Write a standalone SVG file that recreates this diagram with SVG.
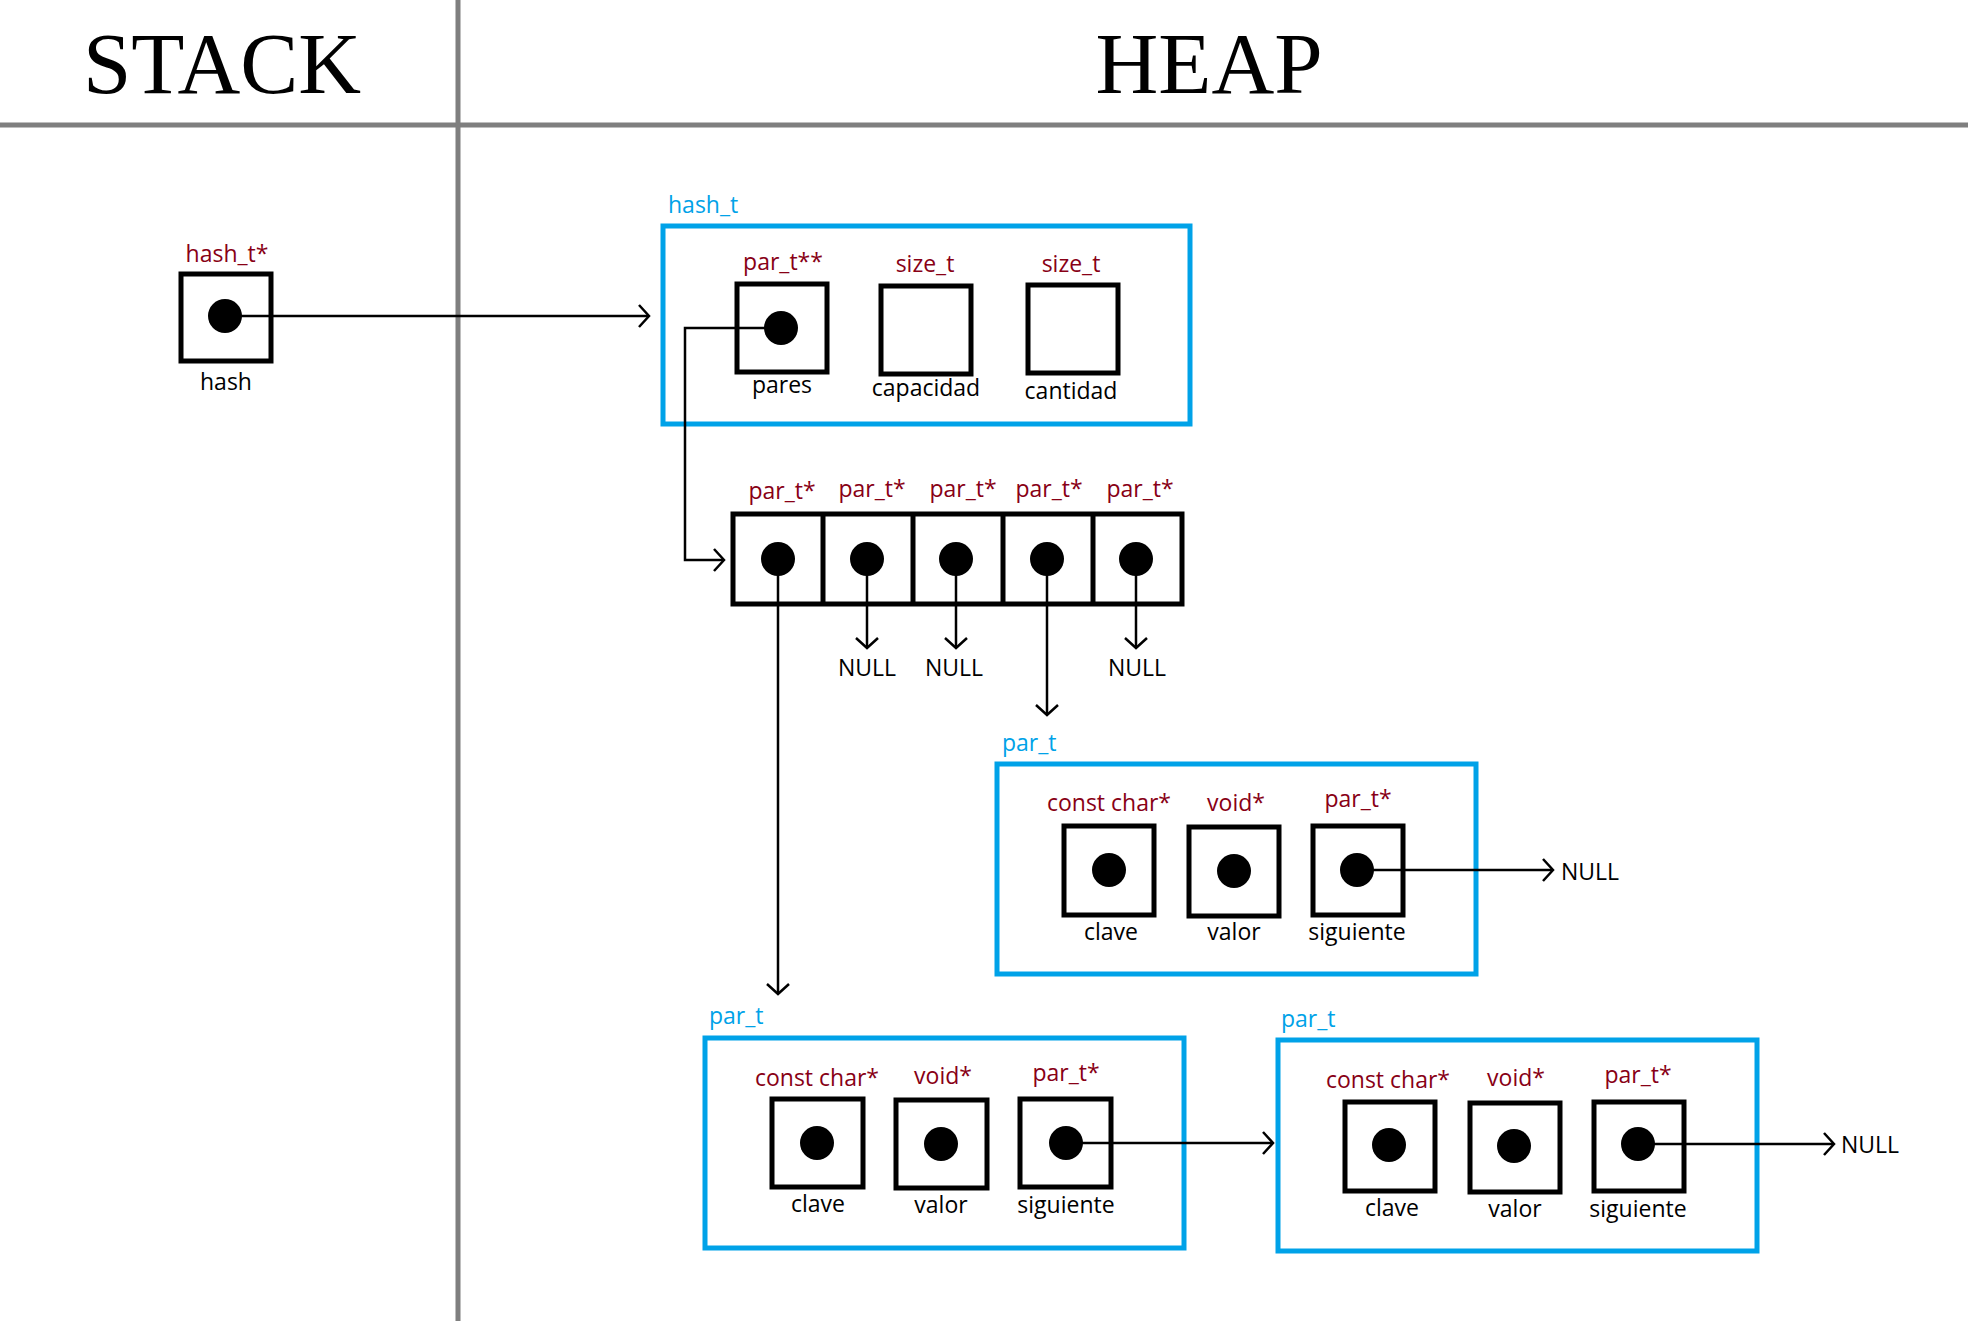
<svg xmlns="http://www.w3.org/2000/svg" width="1968" height="1321" viewBox="0 0 1968 1321">
<style>
.title{font-family:"Liberation Serif","Times New Roman",serif;font-size:87px;fill:#000;text-anchor:middle}
.type{font-family:"Open Sans","Noto Sans",sans-serif;font-size:23px;fill:#880015;text-anchor:middle}
.name{font-family:"Open Sans","Noto Sans",sans-serif;font-size:23px;fill:#000;text-anchor:middle}
.sname{font-family:"Open Sans","Noto Sans",sans-serif;font-size:23px;fill:#00A2E8}
.null{font-family:"Open Sans","Noto Sans",sans-serif;font-size:23px;fill:#000}
.cell{fill:#fff;stroke:#000;stroke-width:5}
.struct{fill:none;stroke:#00A2E8;stroke-width:5}
.dot{fill:#000}
.sep{stroke:#7f7f7f;stroke-width:5}
.conn{fill:none;stroke:#000;stroke-width:2.5;marker-end:url(#arr)}
</style>
<defs>
<marker id="arr" markerUnits="userSpaceOnUse" markerWidth="22" markerHeight="24" refX="11" refY="12" orient="auto" viewBox="0 0 22 24">
<path d="M1,1 L11,12 L1,23" fill="none" stroke="#000" stroke-width="2.5"/>
</marker>
</defs>
<rect width="1968" height="1321" fill="#fff"/>
<g id="frame">
<line class="sep" x1="0" y1="125" x2="1968" y2="125"/>
<line class="sep" x1="458" y1="0" x2="458" y2="1321"/>
<text class="title" x="222" y="93">STACK</text>
<text class="title" x="1209" y="93">HEAP</text>
</g>
<g id="stack-hash">
<text class="type" x="227" y="262">hash_t*</text>
<rect class="cell" x="181" y="274" width="90" height="87"/>
<circle class="dot" cx="225" cy="316" r="17"/>
<text class="name" x="226" y="390">hash</text>
</g>
<g id="hash_t">
<text class="sname" x="668" y="213">hash_t</text>
<rect class="struct" x="663" y="226" width="527" height="198"/>
<text class="type" x="783" y="270">par_t**</text>
<rect class="cell" x="737" y="284" width="90" height="88"/>
<circle class="dot" cx="781" cy="328" r="17"/>
<text class="name" x="782" y="393">pares</text>
<text class="type" x="925" y="272">size_t</text>
<rect class="cell" x="881" y="286" width="90" height="88"/>
<text class="name" x="926" y="396">capacidad</text>
<text class="type" x="1071" y="272">size_t</text>
<rect class="cell" x="1028" y="285" width="90" height="88"/>
<text class="name" x="1071" y="399">cantidad</text>
</g>
<g id="array">
<text class="type" x="782" y="499">par_t*</text>
<text class="type" x="872" y="497">par_t*</text>
<text class="type" x="963" y="497">par_t*</text>
<text class="type" x="1049" y="497">par_t*</text>
<text class="type" x="1140" y="497">par_t*</text>
<rect class="cell" x="733" y="514" width="449" height="90"/>
<line x1="823" y1="514" x2="823" y2="604" stroke="#000" stroke-width="5"/>
<line x1="913" y1="514" x2="913" y2="604" stroke="#000" stroke-width="5"/>
<line x1="1003" y1="514" x2="1003" y2="604" stroke="#000" stroke-width="5"/>
<line x1="1093" y1="514" x2="1093" y2="604" stroke="#000" stroke-width="5"/>
<circle class="dot" cx="778" cy="559" r="17"/>
<circle class="dot" cx="867" cy="559" r="17"/>
<circle class="dot" cx="956" cy="559" r="17"/>
<circle class="dot" cx="1047" cy="559" r="17"/>
<circle class="dot" cx="1136" cy="559" r="17"/>
</g>
<g id="nulls">
<text class="null" x="867" y="676" text-anchor="middle">NULL</text>
<text class="null" x="954" y="676" text-anchor="middle">NULL</text>
<text class="null" x="1137" y="676" text-anchor="middle">NULL</text>
<text class="null" x="1561" y="880">NULL</text>
<text class="null" x="1841" y="1153">NULL</text>
</g>
<g id="par_t_mid">
<text class="sname" x="1002" y="751">par_t</text>
<rect class="struct" x="997" y="764" width="479" height="210"/>
<text class="type" x="1109" y="811">const char*</text>
<text class="type" x="1236" y="811">void*</text>
<text class="type" x="1358" y="807">par_t*</text>
<rect class="cell" x="1064" y="826" width="90" height="89"/>
<rect class="cell" x="1189" y="827" width="90" height="89"/>
<rect class="cell" x="1313" y="826" width="90" height="89"/>
<circle class="dot" cx="1109" cy="870" r="17"/>
<circle class="dot" cx="1234" cy="871" r="17"/>
<circle class="dot" cx="1357" cy="870" r="17"/>
<text class="name" x="1111" y="940">clave</text>
<text class="name" x="1234" y="940">valor</text>
<text class="name" x="1357" y="940">siguiente</text>
</g>
<g id="par_t_left">
<text class="sname" x="709" y="1024">par_t</text>
<rect class="struct" x="705" y="1038" width="479" height="210"/>
<text class="type" x="817" y="1086">const char*</text>
<text class="type" x="943" y="1084">void*</text>
<text class="type" x="1066" y="1081">par_t*</text>
<rect class="cell" x="772" y="1099" width="91" height="88"/>
<rect class="cell" x="896" y="1100" width="91" height="88"/>
<rect class="cell" x="1020" y="1099" width="91" height="88"/>
<circle class="dot" cx="817" cy="1143" r="17"/>
<circle class="dot" cx="941" cy="1144" r="17"/>
<circle class="dot" cx="1066" cy="1143" r="17"/>
<text class="name" x="818" y="1212">clave</text>
<text class="name" x="941" y="1213">valor</text>
<text class="name" x="1066" y="1213">siguiente</text>
</g>
<g id="par_t_right">
<text class="sname" x="1281" y="1027">par_t</text>
<rect class="struct" x="1278" y="1040" width="479" height="211"/>
<text class="type" x="1388" y="1088">const char*</text>
<text class="type" x="1516" y="1086">void*</text>
<text class="type" x="1638" y="1083">par_t*</text>
<rect class="cell" x="1345" y="1102" width="90" height="89"/>
<rect class="cell" x="1470" y="1103" width="90" height="89"/>
<rect class="cell" x="1594" y="1102" width="90" height="89"/>
<circle class="dot" cx="1389" cy="1145" r="17"/>
<circle class="dot" cx="1514" cy="1146" r="17"/>
<circle class="dot" cx="1638" cy="1144" r="17"/>
<text class="name" x="1392" y="1216">clave</text>
<text class="name" x="1515" y="1217">valor</text>
<text class="name" x="1638" y="1217">siguiente</text>
</g>
<g id="connectors">
<path class="conn" d="M225,316 H649"/>
<path class="conn" d="M781,328 H685 V560 H724"/>
<path class="conn" d="M778,559 V994"/>
<path class="conn" d="M867,559 V648"/>
<path class="conn" d="M956,559 V648"/>
<path class="conn" d="M1047,559 V715"/>
<path class="conn" d="M1136,559 V648"/>
<path class="conn" d="M1357,870 H1553"/>
<path class="conn" d="M1066,1143 H1273"/>
<path class="conn" d="M1638,1144 H1834"/>
</g>
</svg>
